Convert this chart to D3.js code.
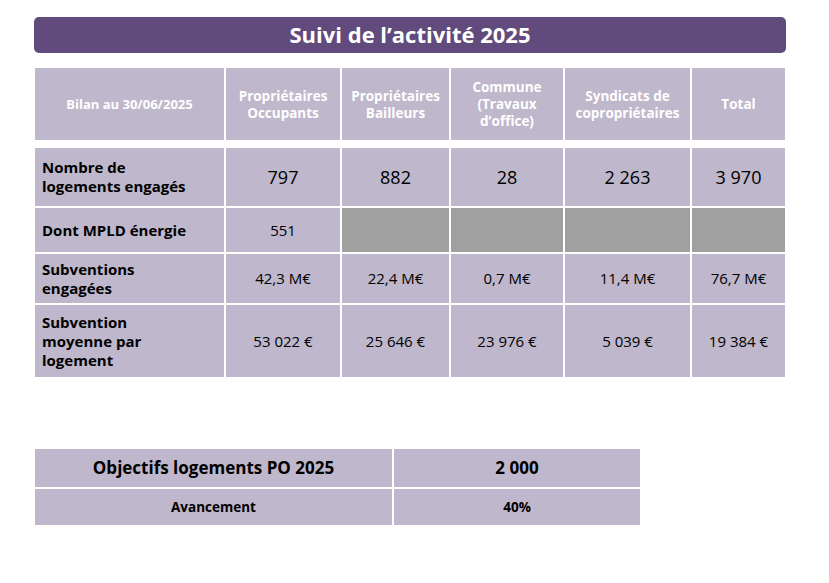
<!DOCTYPE html><html><head><meta charset="utf-8"><script src="https://cdn.jsdelivr.net/npm/d3@7"></script>
<style>body{margin:0;background:#fff}</style></head><body><svg id="c" width="829" height="583"></svg>
<script>
const title = "Suivi de l’activité 2025";
const corner = "Bilan au 30/06/2025";
const categories = [["Propriétaires","Occupants"],["Propriétaires","Bailleurs"],["Commune","(Travaux","d’office)"],["Syndicats de","copropriétaires"],["Total"]];
const rowLabels = [["Nombre de","logements engagés"],["Dont MPLD énergie"],["Subventions","engagées"],["Subvention","moyenne par","logement"]];
const logements = ["797","882","28","2 263","3 970"];
const mpld = ["551",null,null,null,null];
const subventions = ["42,3 M€","22,4 M€","0,7 M€","11,4 M€","76,7 M€"];
const moyenne = ["53 022 €","25 646 €","23 976 €","5 039 €","19 384 €"];
const objLabel = "Objectifs logements PO 2025", objValue = "2 000";
const avLabel = "Avancement", avValue = "40%";

const svg = d3.select("#c");
const F = "'Open Sans', sans-serif";
const cellC = "#bfb7cb", greyC = "#a0a0a0";
svg.append("rect").attr("x",34).attr("y",17).attr("width",752).attr("height",36).attr("rx",5).attr("fill","#614a7c");
svg.append("text").attr("x",410).attr("y",43).attr("text-anchor","middle").attr("fill","#fff").attr("font-family",F).attr("font-weight","bold").attr("font-size",22).text(title);

const colEdges = [35,226,342,451,565,692,787];
const rowEdges = [[68,141],[148,207],[208,253],[254,304],[305,378]];
function cell(x0,x1,y0,y1,fill,lines,opt){
  svg.append("rect").attr("x",x0).attr("y",y0).attr("width",x1-x0-2).attr("height",y1-y0-1).attr("fill",fill);
  if(!lines) return;
  const lh=opt.lh, n=lines.length, cy=(y0+y1)/2;
  const t=svg.append("text").attr("font-family",F).attr("font-size",opt.size).attr("font-weight",opt.w||"normal").attr("fill",opt.fill||"#000").attr("text-anchor",opt.left?"start":"middle");
  lines.forEach((l,i)=>t.append("tspan").attr("x",opt.left?x0+7:(x0+x1-2)/2).attr("y",cy+(i-(n-1)/2)*lh+opt.size*0.35).text(l));
}
cell(colEdges[0],colEdges[1],rowEdges[0][0],rowEdges[0][1],cellC,[corner],{size:13,w:"bold",fill:"#fff",lh:17});
categories.forEach((c,i)=>cell(colEdges[i+1],colEdges[i+2],rowEdges[0][0],rowEdges[0][1],cellC,c,{size:13.5,w:"bold",fill:"#fff",lh:17}));
const data=[logements,mpld,subventions,moyenne];
const sizes=[18,15,15,15];
data.forEach((row,r)=>{
  const [y0,y1]=rowEdges[r+1];
  cell(colEdges[0],colEdges[1],y0,y1,cellC,rowLabels[r],{size:15,w:"bold",left:true,lh:19});
  row.forEach((v,i)=>cell(colEdges[i+1],colEdges[i+2],y0,y1,v===null?greyC:cellC,v===null?null:[v],{size:sizes[r],lh:18}));
});
const bx=[35,394,642];
cell(bx[0],bx[1],449,488,cellC,[objLabel],{size:17,w:"bold",lh:20});
cell(bx[1],bx[2],449,488,cellC,[objValue],{size:17,w:"bold",lh:20});
cell(bx[0],bx[1],489,526,cellC,[avLabel],{size:13.5,w:"bold",lh:18});
cell(bx[1],bx[2],489,526,cellC,[avValue],{size:13.5,w:"bold",lh:18});
</script></body></html>
